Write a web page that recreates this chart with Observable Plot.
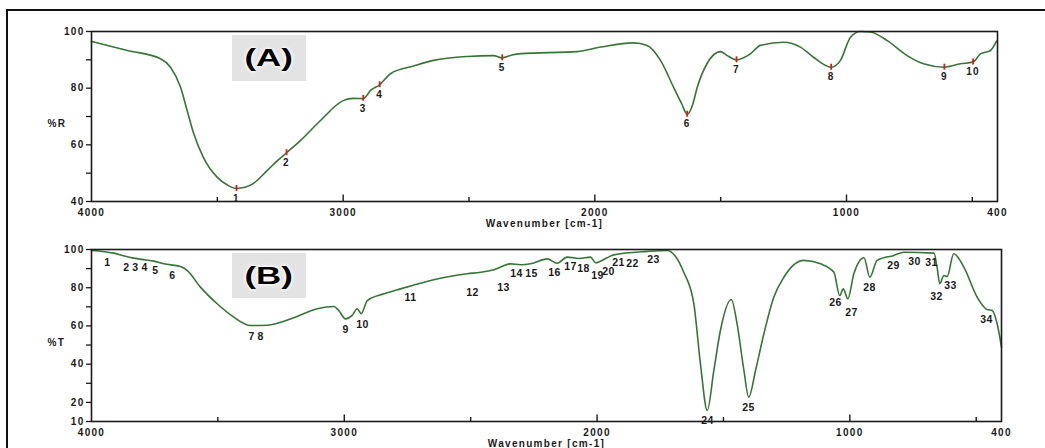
<!DOCTYPE html>
<html><head><meta charset="utf-8">
<script src="https://cdn.jsdelivr.net/npm/d3@7"></script>
<script src="https://cdn.jsdelivr.net/npm/@observablehq/plot@0.6"></script>
<style>
html,body{margin:0;padding:0;background:#fff;}
#wrap{position:relative;width:1045px;height:448px;overflow:hidden;font-family:"Liberation Sans",Arial,sans-serif;}
#wrap svg{position:absolute;left:0;}
#wrap svg text{letter-spacing:1.3px;}
#wrap svg.pB g.peaks text{letter-spacing:0.4px;}
.border{position:absolute;left:6px;top:9px;width:1100px;height:460px;border-left:2px solid #111;border-top:2px solid #111;}
.tag{position:absolute;left:232px;width:74px;background:#e3e3e3;display:flex;align-items:center;justify-content:center;}
.tag span{display:inline-block;font:bold 24px "Liberation Sans",Arial,sans-serif;color:#000;text-shadow:0 0 2px #fff,0 0 3px #fff,0 0 4px #fff;transform:scaleX(1.45);}
</style></head>
<body><div id="wrap"><div class="border"></div></div>
<script>
// ---------- Data ----------
const xLabels = [4000, 3000, 2000, 1000, 400];
const xMajor = [3000, 2000, 1000];
const xMinor = [3500, 2500, 1500, 500];

const yTicksA = [40, 50, 60, 70, 80, 90, 100];
const yLabelsA = [40, 60, 80, 100];
const yTicksB = [10, 20, 30, 40, 50, 60, 70, 80, 90, 100];
const yLabelsB = [10, 20, 40, 60, 80, 100];

// Spectrum (A): wavenumber (cm-1) and %R
const wnA = [4000,3857,3726,3686,3646,3620,3594,3555,3500,3460,3424,3390,3356,3301,3260,3225,3170,3090,3000,2959,2920,2891,2855,2812,2720,2641,2506,2403,2368,2330,2295,2070,1977,1846,1792,1739,1687,1655,1633,1612,1593,1554,1501,1474,1437,1382,1342,1250,1183,1131,1061,1024,984,944,905,838,759,694,611,547,497,468,428,404];
const valA = [96.5,93.3,90.4,87.4,80.3,72.1,64,55.5,48.5,45.8,44.6,45.0,46.4,51,54.5,57.2,61.5,68.6,75.6,76.4,76.3,79.2,81.2,85.1,87.8,89.8,91.2,91.5,90.7,91.7,92.2,92.9,94.5,96,95.1,89.8,80.3,74.5,70.8,74,80.3,88.7,92.9,91.5,90,92.1,95.1,96.2,94.5,90.9,87.4,89.8,98,100,99.8,96.8,91.5,88.6,87.4,88.6,89.2,92.1,93.3,96.6];

// Peaks picked on (A)
const peakLabA = ["1","2","3","4","5","6","7","8","9","10"];
const peakWnA = [3424,3225,2920,2855,2368,1633,1437,1061,611,497];
const peakValA = [44.6,57.2,76.4,81.2,90.7,70.8,90,87.4,87.4,89.2];

// Spectrum (B): wavenumber (cm-1) and %T
const wnB = [4000,3912,3870,3833,3790,3754,3714,3648,3621,3569,3503,3437,3371,3305,3200,3107,3041,3022,2995,2969,2949,2933,2909,2843,2778,2730,2646,2514,2461,2408,2342,2303,2263,2197,2158,2118,2070,2026,2006,1960,1934,1802,1723,1690,1657,1617,1591,1564,1538,1512,1469,1446,1419,1400,1373,1340,1301,1261,1182,1116,1063,1040,1026,1008,984,944,921,892,826,786,667,655,644,628,615,589,549,496,457,437,417,400];
const valB = [99.5,98.1,96.6,95.5,94.6,93.9,92.5,91.1,89,80.3,71.6,64.6,60.2,60.4,64.3,69,70.2,68.1,63.7,65.5,69,66.4,73.3,76.8,79.4,81.2,84.2,87.3,88.1,89.4,92.5,92,92.5,95.1,92.8,96,95.3,96,93.1,95.7,97.2,99,99.5,96.5,88.1,71.6,40.2,15.8,36.7,57.6,73.8,61.1,36.7,22.7,36.7,55.9,75,85.5,94.3,92.5,88.1,75.9,79.4,74.2,87.3,95.7,85.5,94.3,96.9,98.6,98.1,90.8,82.1,86.4,85.9,97.8,90.8,75,68.6,68.1,61,48.9];

// Peak label positions on (B)
const peakLabB = ["1","2","3","4","5","6","7","8","9","10","11","12","13","14","15","16","17","18","19","20","21","22","23","24","25","26","27","28","29","30","31","32","33","34"];
const peakWnB = [3937,3862,3826,3790,3747,3680,3367,3331,2995,2928,2738,2493,2370,2319,2259,2168,2105,2054,1998,1955,1915,1860,1777,1563,1401,1057,993,922,827,744,677,657,602,459];
const peakValB = [93.2,90.6,90.6,90.6,89,86.4,54.5,54.5,58.1,60.8,74.9,77.5,80.1,87.5,87.5,88,91.1,90.1,86.4,88.5,93.2,92.7,94.8,10.5,17.3,72.3,67,80.1,91.6,93.7,93.2,75.4,81.2,63.4];

// ---------- Build ----------
const specA = wnA.map((w, i) => ({wn: w, v: valA[i]}));
const specB = wnB.map((w, i) => ({wn: w, v: valB[i]}));
const peaksA = peakWnA.map((w, i) => ({wn: w, v: peakValA[i], label: peakLabA[i]}));
const peaksB = peakWnB.map((w, i) => ({wn: w, v: peakValB[i], label: peakLabB[i]}));

const green = "#367536";
const ink = "#1a1a1a";
const baseStyle = {fontFamily: '"Liberation Sans", Arial, sans-serif', fontSize: "10px", background: "transparent", overflow: "visible", color: ink};

function panel({data, peaks, yDomain, yTicks, yLabels, yName, height, marginTop, marginBottom, marginRight, red, cls}) {
  const y0 = yDomain[0];
  const span = yDomain[1] - yDomain[0];
  const plotH = height - marginTop - marginBottom;
  const u = span / plotH; // data units per pixel
  const marks = [
    Plot.axisY({ticks: yTicks, tickFormat: d => yLabels.includes(d) ? String(d) : "", tickSize: 5, tickPadding: 2, fontWeight: "bold", stroke: ink, strokeWidth: 1.3, label: null}),
    Plot.axisX({ticks: xLabels, tickFormat: d => String(d), tickSize: 0, tickPadding: 7, fontWeight: "bold", label: null}),
    Plot.ruleX(xMajor, {y1: y0, y2: y0 + 6.5 * u, stroke: ink, strokeWidth: 1.4}),
    Plot.ruleX(xMinor, {y1: y0, y2: y0 + 4 * u, stroke: ink, strokeWidth: 1.4}),
    Plot.text(["Wavenumber [cm-1]"], {frameAnchor: "bottom", dy: 25, fontWeight: "bold", fontSize: 10}),
    Plot.text([yName], {frameAnchor: "left", dx: -44, dy: 7, fontWeight: "bold", fontSize: 10}),
    Plot.line(data, {x: "wn", y: "v", stroke: green, strokeWidth: 1.6, curve: "monotone-x"})
  ];
  if (red) {
    marks.push(Plot.ruleX(peaks, {x: "wn", y1: d => d.v - 3 * u, y2: d => d.v + 3 * u, stroke: "#e01818", strokeWidth: 1.8}));
    marks.push(Plot.text(peaks, {x: "wn", y: "v", text: "label", dy: 10, fontWeight: "bold", fontSize: 10, className: "peaks"}));
  } else {
    marks.push(Plot.text(peaks, {x: "wn", y: "v", text: "label", fontWeight: "bold", fontSize: 10.5, className: "peaks"}));
  }
  marks.push(Plot.frame({stroke: ink, strokeWidth: 1.6}));
  const svg = Plot.plot({
    width: 1045, height, marginLeft: 91, marginRight, marginTop, marginBottom,
    x: {domain: [4000, 400]},
    y: {domain: yDomain},
    style: baseStyle,
    marks
  });
  svg.classList.add(cls);
  return svg;
}

const wrap = document.getElementById("wrap");
const a = panel({data: specA, peaks: peaksA, yDomain: [40, 100], yTicks: yTicksA, yLabels: yLabelsA, yName: "%R", height: 238, marginTop: 31, marginBottom: 37, marginRight: 48, red: true, cls: "pA"});
a.style.top = "0px";
wrap.appendChild(a);
const b = panel({data: specB, peaks: peaksB, yDomain: [10, 100], yTicks: yTicksB, yLabels: yLabelsB, yName: "%T", height: 210, marginTop: 11, marginBottom: 27, marginRight: 44, red: false, cls: "pB"});
b.style.top = "238px";
wrap.appendChild(b);

function tag(text, top, h) {
  const d = document.createElement("div");
  d.className = "tag";
  d.style.top = top + "px";
  d.style.height = h + "px";
  const s = document.createElement("span");
  s.textContent = text;
  d.appendChild(s);
  wrap.appendChild(d);
}
tag("(A)", 35, 46);
tag("(B)", 253, 45);
</script>
</body></html>
